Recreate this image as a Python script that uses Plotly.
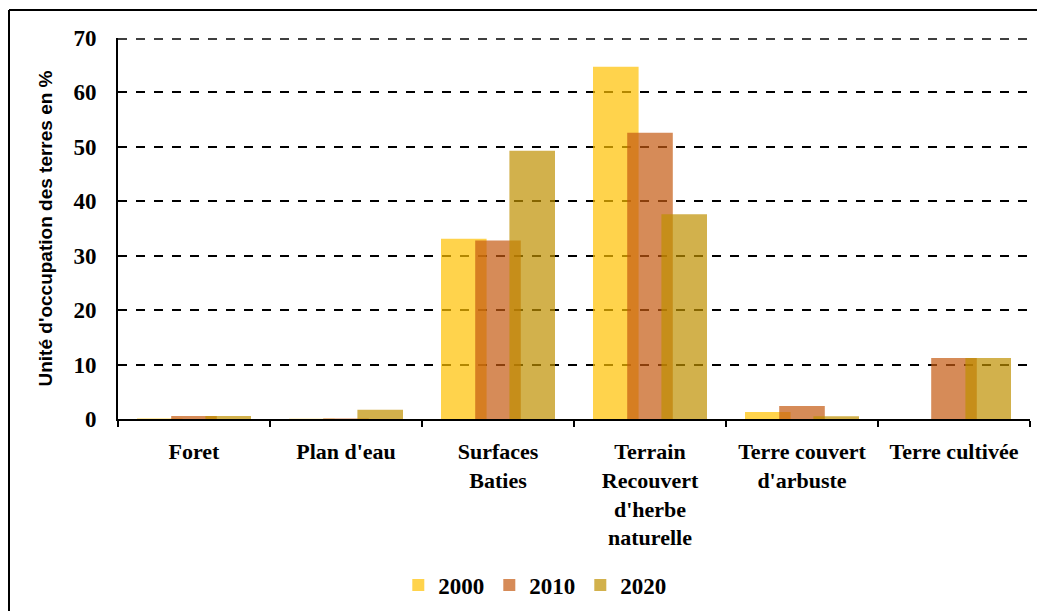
import plotly.graph_objects as go

categories = ["Foret", "Plan d'eau", "Surfaces<br>Baties",
              "Terrain<br>Recouvert<br>d'herbe<br>naturelle",
              "Terre couvert<br>d'arbuste", "Terre cultivée"]
years = ["2000", "2010", "2020"]
v2000 = [0.1, 0.05, 33.1, 64.7, 1.3, 0.0]
v2010 = [0.55, 0.1, 32.8, 52.6, 2.4, 11.2]
v2020 = [0.55, 1.7, 49.3, 37.6, 0.5, 11.2]
colors = ["rgba(255,192,0,0.7)", "rgba(197,90,17,0.7)", "rgba(191,144,0,0.7)"]
offsets = [-0.375, -0.15, 0.075]

fig = go.Figure()
for year, vals, col, off in zip(years, [v2000, v2010, v2020], colors, offsets):
    fig.add_trace(go.Bar(x=categories, y=vals, name=year, marker_color=col,
                         marker_line_width=0, width=0.3, offset=off))

# la page ajoute 8px de marge, d'où 1037x603
W, H = 1037, 603
L, R, T, B = 110, 15, 30, 192
pw, ph = W - L - R, H - T - B

fig.update_layout(
    width=W, height=H,
    barmode="overlay",
    plot_bgcolor="white", paper_bgcolor="white",
    margin=dict(l=L, r=R, t=T, b=B),
    font=dict(family="Liberation Serif", color="black"),
    legend=dict(orientation="h", xref="container", x=0.508, xanchor="center",
                yref="container", y=1 - 577 / H, yanchor="middle",
                font=dict(family="Liberation Serif", size=23, weight="bold"),
                traceorder="normal"),
    showlegend=True,
)
fig.update_xaxes(showline=True, linecolor="black", linewidth=2,
                 ticks="outside", tickson="boundaries", ticklen=6, tickwidth=2,
                 tickcolor="black", ticklabelstandoff=12,
                 tickfont=dict(family="Liberation Serif", size=22, weight="bold"))
fig.update_yaxes(range=[0, 70], dtick=10, showline=True, linecolor="black",
                 linewidth=2, zeroline=False, showgrid=True, gridcolor="black",
                 griddash="dash", gridwidth=1.5, ticklabelstandoff=15,
                 tickfont=dict(family="Liberation Serif", size=23, weight="bold"),
                 title=dict(text="Unité d'occupation des terres en %", standoff=16,
                            font=dict(family="Liberation Sans", size=19, weight="bold")))

# ligne de grille du haut (70), masquée par plotly au bord
fig.add_shape(type="line", xref="paper", yref="paper", x0=0, x1=1,
              y0=1 - 1 / ph, y1=1 - 1 / ph,
              line=dict(color="black", width=1.5, dash="dash"), layer="below")

# cadre extérieur
xl = (1 - L) / pw
yt = 1 + (T - 2) / ph
fig.add_shape(type="line", xref="paper", yref="paper", x0=xl, x1=1.1,
              y0=yt, y1=yt, line=dict(color="black", width=2))
fig.add_shape(type="line", xref="paper", yref="paper", x0=xl, x1=xl,
              y0=yt, y1=-0.6, line=dict(color="black", width=2))

fig.write_html("out.html")
